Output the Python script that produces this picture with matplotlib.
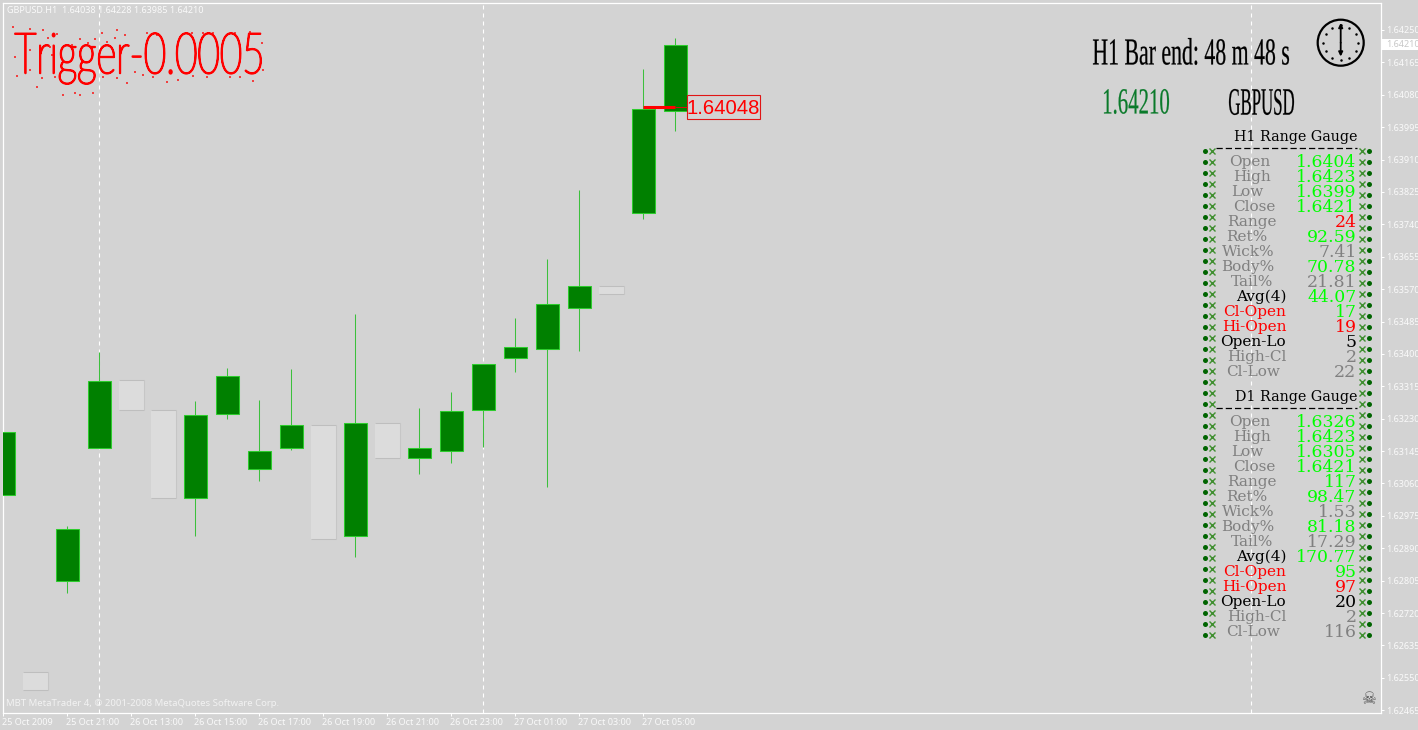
import matplotlib
matplotlib.use("Agg")
import matplotlib.pyplot as plt
from matplotlib.patches import Rectangle, Circle
from matplotlib.text import Text
from matplotlib.textpath import TextPath
from matplotlib.transforms import Affine2D, ScaledTranslation, Bbox
from matplotlib.colors import to_rgba
import numpy as np

# ---- data ----
opens  = [1.63031,1.62566,1.62803,1.63152,1.63332,1.63253,1.63023,1.63243,1.63099,1.63154,1.63213,
          1.62921,1.63218,1.63128,1.63144,1.63254,1.63388,1.63414,1.63521,1.63578,1.63769,1.64038]
highs  = [1.63195,1.62566,1.62949,1.63405,1.63332,1.63253,1.63277,1.63363,1.63279,1.63361,1.63213,
          1.63505,1.63218,1.63259,1.63300,1.63373,1.63494,1.63649,1.63830,1.63578,1.64148,1.64228]
lows   = [1.63031,1.62519,1.62773,1.63152,1.63254,1.63022,1.62923,1.63228,1.63067,1.63148,1.62914,
          1.62868,1.63128,1.63085,1.63114,1.63157,1.63353,1.63052,1.63408,1.63558,1.63754,1.63985]
closes = [1.63195,1.62519,1.62940,1.63329,1.63254,1.63022,1.63240,1.63342,1.63146,1.63213,1.62914,
          1.63218,1.63128,1.63153,1.63250,1.63373,1.63418,1.63530,1.63578,1.63558,1.64042,1.64210]
y_ticks = [1.62465,1.62550,1.62635,1.62720,1.62805,1.62890,1.62975,1.63060,1.63145,1.63230,1.63315,
           1.63400,1.63485,1.63570,1.63655,1.63740,1.63825,1.63910,1.63995,1.64080,1.64165,1.64250]
x_tick_idx = [0,2,4,6,8,10,12,14,16,18,20]
x_tick_labels = ["25 Oct 2009","25 Oct 21:00","26 Oct 13:00","26 Oct 15:00","26 Oct 17:00","26 Oct 19:00",
                 "26 Oct 21:00","26 Oct 23:00","27 Oct 01:00","27 Oct 03:00","27 Oct 05:00"]
separators = [3,15,39]
trigger_price = 1.64048
last_price = 1.64210

gauge_labels = ["Open","High","Low","Close","Range","Ret%","Wick%","Body%","Tail%","Avg(4)",
                "Cl-Open","Hi-Open","Open-Lo","High-Cl","Cl-Low"]
h1_values = ["1.6404","1.6423","1.6399","1.6421","24","92.59","7.41","70.78","21.81","44.07","17","19","5","2","22"]
h1_colors = ["lime","lime","lime","lime","red","lime","gray","lime","gray","lime","lime","red","black","gray","gray"]
d1_values = ["1.6326","1.6423","1.6305","1.6421","117","98.47","1.53","81.18","17.29","170.77","95","97","20","2","116"]
d1_colors = ["lime","lime","lime","lime","lime","lime","gray","lime","gray","lime","lime","red","black","gray","gray"]
label_colors = ["gray"]*9 + ["black","red","red","black","gray","gray"]
label_centres = [1249.5,1252,1247,1254.5,1252,1247,1248.5,1247.5,1252.5,1261,1255,1254.5,1253,1257,1253]

BG = "#d3d3d3"
W, H = 1418, 730


class FittedText(Text):
    """A text object whose glyphs are scaled to fill a given pixel box."""
    _edge = 0.15

    def __init__(self, box, s, **kw):
        self._box = box
        x0, y0, x1, y1 = box
        super().__init__((x0+x1)/2, (y0+y1)/2, s, ha="center", va="center", **kw)

    def get_window_extent(self, renderer=None, dpi=None):
        x0, y0, x1, y1 = self._box
        return Bbox.from_extents(x0, H-y1, x1, H-y0)

    def draw(self, renderer):
        x0, y0, x1, y1 = self._box
        tp = TextPath((0, 0), self.get_text(), size=10, prop=self.get_fontproperties())
        bb = tp.get_extents()
        tr = (Affine2D().translate(-bb.x0, -bb.y0)
              .scale((x1-x0)/bb.width, (y1-y0)/bb.height)
              .translate(x0, H-y1))
        gc = renderer.new_gc()
        gc.set_foreground(self.get_color())
        gc.set_linewidth(self._edge)
        gc.set_antialiased(True)
        renderer.draw_path(gc, tp, tr, to_rgba(self.get_color()))
        gc.restore()


fig = plt.figure(figsize=(W/100, H/100), dpi=100, facecolor=BG)
L, R, T, B = 2.7, 1380.7, 2.5, 713.3
ax = fig.add_axes([L/W, 1-B/H, (R-L)/W, (B-T)/H], facecolor=BG)
ax.set_xlim(-0.025, 43.04)
ax.set_ylim(1.62457, 1.64322)
for s in ax.spines.values():
    s.set_color("white"); s.set_linewidth(0.9)

FONT = "Noto Sans"
TICK = "#fafafa"
ax.set_yticks(y_ticks)
ax.set_yticklabels([f"{v:.5f}" for v in y_ticks], fontsize=6.5, color=TICK, family=FONT)
ax.yaxis.tick_right()
ax.set_xticks(x_tick_idx)
ax.set_xticklabels(x_tick_labels, fontsize=6.5, color=TICK, family=FONT, ha="left")
ax.tick_params(axis="y", length=2.2, width=0.72, color="white", pad=1.5)
ax.tick_params(axis="x", length=2.2, width=0.72, color="white", pad=1.0)
for lab in ax.get_xticklabels():
    lab.set_transform(lab.get_transform() + ScaledTranslation(-1/100, 0, fig.dpi_scale_trans))

# day separators
ax.vlines(separators, 1.62457, 1.64322, colors="white", linewidth=0.8,
          linestyles=[(0, (3.6, 3.6))], zorder=1).set_snap(True)

x = np.arange(len(opens))
o, h, l, c = map(np.array, (opens, highs, lows, closes))
up = c >= o
dn = ~up
# wicks
ax.vlines(x[up], l[up], h[up], colors="#3cc03c", linewidth=0.75, zorder=2).set_snap(True)
# bull bodies
ax.bar(x[up], (c-o)[up], bottom=o[up], width=0.72, color="#008000",
       edgecolor="#2dcc2d", linewidth=0.75, zorder=3)
# bear bodies (pale)
ax.bar(x[dn]+0.01, (o-c)[dn], bottom=c[dn], width=0.78, color="#dcdcdc", linewidth=0, zorder=3)
ax.hlines(o[dn], x[dn]-0.38, x[dn]+0.40, colors="#bebebe", linewidth=0.75, zorder=4).set_snap(True)
ax.hlines(c[dn], x[dn]-0.38, x[dn]+0.40, colors="#bebebe", linewidth=0.75, zorder=4).set_snap(True)
ax.vlines(x[dn]+0.39, c[dn], o[dn], colors="#c6c6c6", linewidth=0.75, zorder=4).set_snap(True)

# trigger line
ax.hlines(trigger_price, 20, 21, colors="red", linewidth=2.2, zorder=6)
ax.hlines(trigger_price, 21, 21.35, colors="#d01010", linewidth=0.75, zorder=6)

# overlay in pixel coordinates for the on-chart indicators
ov = fig.add_axes([0, 0, 1, 1], facecolor="none")
ov.set_xlim(0, W); ov.set_ylim(H, 0); ov.axis("off")


def fitted(box, s, color, family, **kw):
    t = FittedText(box, s, color=color, family=family, **kw)
    ov.add_artist(t)
    return t


ov.text(7, 10.5, "GBPUSD.H1  1.64038 1.64228 1.63985 1.64210", fontsize=6.5, color=TICK, family=FONT, va="center")
ov.text(6, 704, "MBT MetaTrader 4, \u00a9 2001-2008 MetaQuotes Software Corp.", fontsize=6.9, color="#f2f2f2", family=FONT, va="center")

# Trigger caption with specks
tr_txt = fitted((15, 33, 261, 84), "Trigger-0.0005", "red", "Lato", fontweight="light")
tr_txt._edge = 1.3
speck_zoom = [(40,82),(90,88),(130,90),(170,103),(145,115),(240,118),(285,118),(305,100),(350,90),(375,105),
              (345,115),(320,125),(215,135),(265,130),(150,140),(155,165),(90,150),(45,172),(90,210),(50,228),
              (125,235),(165,230),(112,262),(190,285),(225,280),(240,285),(278,280),(310,230),(350,235),(380,250),
              (405,215),(430,225),(460,230),(500,245),(540,110),(575,98),(610,100),(640,98),(675,110),(705,98),
              (750,95),(785,130),(790,210),(760,243),(720,230),(690,232),(620,232),(580,228),(535,240),(470,105),(440,100)]
sp = np.array(speck_zoom)/3
ov.scatter(sp[:,0], sp[:,1], s=2.2, marker="s", color="#f04040", linewidths=0)

# Trigger label box
ov.add_patch(Rectangle((687, 95), 73, 24.3, fc=BG, ec="#e01515", lw=0.8, zorder=5))
ov.text(723.5, 108, "1.64048", fontsize=14.6, color="red", family="Liberation Sans", ha="center", va="center", zorder=6)

# last price flag
ov.add_patch(Rectangle((1382, 39), 37, 11, fc="white", ec="none", zorder=5))
ov.text(1386, 44.5, f"{last_price:.5f}", fontsize=6.5, color="#c8c8c8", family=FONT, va="center", zorder=6)

# timer & symbol
fitted((1093, 38, 1289, 65), "H1 Bar end: 48 m 48 s", "black", "Liberation Serif")
fitted((1104, 89, 1169, 114), f"{last_price:.5f}", "#0a7a2a", "Liberation Serif")
fitted((1229, 89, 1294, 115), "GBPUSD", "black", "Liberation Serif")

# clock
cx, cy = 1340.7, 42.7
ov.add_patch(Circle((cx, cy), 23, fc="none", ec="black", lw=1.6))
for a in range(0, 360, 30):
    ov.plot(cx+17.5*np.sin(np.radians(a)), cy-17.5*np.cos(np.radians(a)), "o", ms=1.8, color="black", mew=0)
for tip in (23, 56.5):
    ov.annotate("", xy=(cx, tip), xytext=(cx, cy),
                arrowprops=dict(arrowstyle="-|>", color="black", lw=1.3, mutation_scale=6, shrinkA=0, shrinkB=0))


# gauges
def gauge(title, head_y, line_y, first_y, values, colors):
    ov.text(1357.5, head_y, title, fontsize=10.3, color="black", family="DejaVu Serif", ha="right", va="center")
    ov.plot([1216, 1357], [line_y, line_y], color="black", lw=0.9, ls=(0, (5, 2.4)))
    for i in range(15):
        yy = first_y + 15*i + 0.6
        ov.text(label_centres[i], yy, gauge_labels[i], fontsize=11, color=label_colors[i],
                family="DejaVu Serif", ha="center", va="center")
        ov.text(1356.5, yy, values[i], fontsize=12.4, color=colors[i],
                family="DejaVu Serif", ha="right", va="center")


gauge("H1 Range Gauge", 136.7, 147.5, 161.7, h1_values, h1_colors)
gauge("D1 Range Gauge", 396.7, 407.5, 421.7, d1_values, d1_colors)

# ornament columns
rows = 150.7 + 11*np.arange(45)
ov.plot(np.full_like(rows, 1205), rows, "o", ms=3.6, color="#006400", mew=0)
ov.plot(np.full_like(rows, 1211.5), rows, "x", ms=4.2, color="#3f8f2f", mew=1.0)
ov.plot(np.full_like(rows, 1362), rows+0.7, "x", ms=4.2, color="#3f8f2f", mew=1.0)
ov.plot(np.full_like(rows, 1369), rows+0.7, "o", ms=3.6, color="#006400", mew=0)

ov.text(1369, 699, "\u2620", fontsize=12, color="#555555", family="DejaVu Sans", ha="center", va="center")

fig.savefig("out.png", dpi=100, facecolor=BG)
